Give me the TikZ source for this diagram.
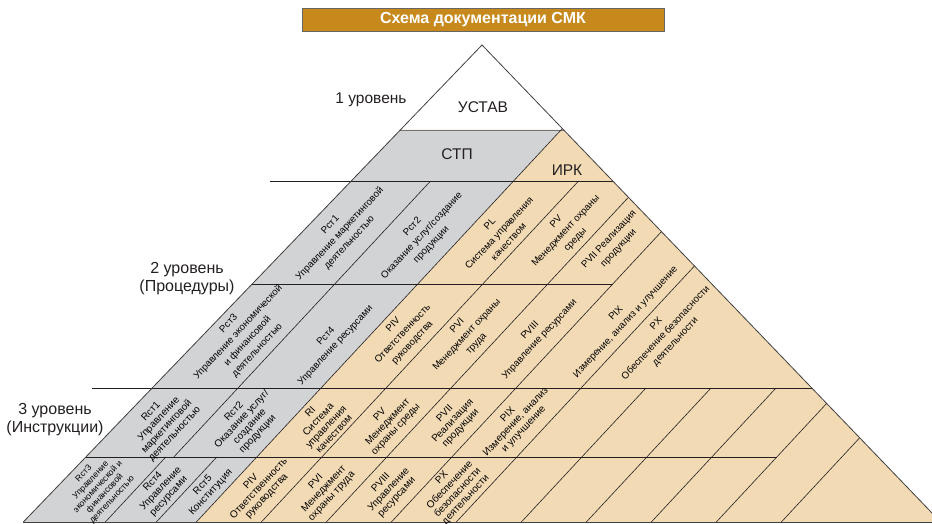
\documentclass[tikz,border=0pt]{standalone}
\usepackage{fontspec}
\setmainfont{Liberation Sans}
\definecolor{tanfill}{HTML}{F2DAB5}
\definecolor{grayfill}{HTML}{D2D3D5}
\definecolor{titlefill}{HTML}{C8891C}
\definecolor{ink}{HTML}{231F20}
\begin{document}
\begin{tikzpicture}[x=1pt,y=-1pt,
  declare function={xl(\x)=482-(\x-45)/1.04; xr(\x)=482+(\x-45)/1.04; dg(\x,\y)=\x+(388-\y)/1.075; ye(\x)=(\x-77.8)/1.89177;},
  ln/.style={draw=ink, line width=0.6pt},
  c2/.style={font=\fontsize{9.7}{13}\selectfont, align=center, rotate=47, inner sep=0pt, text=black},
  c3/.style={font=\fontsize{10}{10.8}\selectfont, align=center, rotate=47, inner sep=0pt, text=black},
  c3s/.style={c3, font=\fontsize{8.6}{9.6}\selectfont},
  lvl/.style={font=\fontsize{16}{18}\selectfont, align=center, text=ink},
  big/.style={font=\fontsize{15.5}{17}\selectfont, text=ink},
]
\useasboundingbox (0,0) rectangle (932,524);
\clip (0,0) rectangle (932,524);
% fills
\fill[tanfill] ({xl(130)},130) -- ({xr(130)},130) -- ({xr(522)},522) -- ({xl(522)},522) -- cycle;
\fill[grayfill] ({xl(130)},130) -- ({dg(321,130)},130) -- ({dg(321,522)},522) -- ({xl(522)},522) -- cycle;
% horizontal lines
\draw[draw=black!55, line width=0.8pt] ({xl(130)},130) -- ({xr(130)},130);
\draw[ln] (270,181) -- ({xr(181)},181);
\draw[ln] ({xl(284)},284) -- ({dg(516,284)},284);
\draw[ln] (92,388) -- ({xr(388)},388);
\draw[ln] ({xl(457)},457) -- ({dg(841,457)},457);
% diagonals
\draw[ln] ({dg(321,{ye(321)})},{ye(321)}) -- ({dg(321,522)},522);
\draw[ln] ({dg(238,181)},181) -- ({dg(238,457)},457);
\draw[ln] ({dg(230,457)},457) -- ({dg(230,522)},522);
\draw[ln] ({dg(281,457)},457) -- ({dg(281,522)},522);
\draw[ln] ({dg(386,181)},181) -- ({dg(386,522)},522);
\foreach \c in {451,516,581,841,906}
  \draw[ln] ({dg(\c,{ye(\c)})},{ye(\c)}) -- ({dg(\c,522)},522);
\foreach \c in {646,711,776}
  \draw[ln] ({dg(\c,388)},388) -- ({dg(\c,522)},522);
% outline
\draw[draw=black!75, line width=0.8pt] ({xl(522)},522) -- (482,45) -- ({xr(522)},522);
\draw[draw=black!75, line width=0.8pt] ({xl(522)},522) -- ({xr(522)},522);
% title
\node[fill=titlefill, draw=black!60, line width=0.6pt, minimum width=362, minimum height=23, inner sep=0pt,
  font=\bfseries\fontsize{16}{18}\selectfont, text=white] (title) at (483,19.7) {Схема документации СМК};
% big labels
\node[font=\fontsize{15.5}{17}\selectfont, text=ink] (l1) at (371,100) {1 уровень};
\node[big] (ustav) at (483,107) {УСТАВ};
\node[big] (stp) at (457,154) {СТП};
\node[big] (irk) at (567,170) {ИРК};
\node[lvl] (l2) at (187,279) {2 уровень\\(Процедуры)};
\node[lvl] (l3) at (55,420) {3 уровень\\(Инструкции)};
% level 2 upper
\node[c2] (p1) at (340,234) {Рст1\\Управление маркетинговой\\деятельностью};
\node[c2] (p2) at (422,236) {Рст2\\Оказание услуг/создание\\продукции};
\node[c2] (pl) at (499,233) {PL\\Система управления\\качеством};
\node[c2] (pv) at (566,231) {PV\\Менеджмент охраны\\среды};
\node[c2] (pvii) at (614,244) {PVII Реализация\\продукции};
% level 2 lower
\node[c2] (p3) at (243,337) {Рст3\\Управление экономической\\и финансовой\\деятельностью};
\node[c2] (p4) at (331,341) {Рст4\\Управление ресурсами};
\node[c2] (piv) at (403,334) {PIV\\Ответственность\\руководства};
\node[c2] (pvi) at (467,335) {PVI\\Менеджмент охраны\\труда};
\node[c2] (pviii) at (535,335) {PVIII\\Управление ресурсами};
\node[c2] (pix) at (621,318) {PIX\\Измерение, анализ и улучшение};
\node[c2] (px) at (666,333) {PX\\Обеспечение безопасности\\деятельности};
% level 3 upper
\node[c3] (r1) at (163,423) {Rст1\\Управление\\маркетинговой\\деятельностью};
\node[c3] (r2) at (246,423) {Rст2\\Оказание услуг/\\создание\\продукции};
\node[c3] (ri) at (322,423) {RI\\Система\\управления\\качеством};
\node[c3] (rv) at (388,422) {PV\\Менеджмент\\охраны среды};
\node[c3] (rvii) at (453,421) {PVII\\Реализация\\продукции};
\node[c3] (rix) at (516,422) {PIX\\Измерение, анализ\\и улучшение};
% level 3 lower
\node[c3s] (r3) at (98,487) {Rст3\\Управление\\экономической и\\финансовой\\деятельностью};
\node[c3] (r4) at (161,489) {Rст4\\Управление\\ресурсами};
\node[c3] (r5) at (207,489) {Rст5\\Конституция};
\node[c3] (riv) at (259,489) {PIV\\Ответственность\\руководства};
\node[c3] (rvi) at (324,489) {PVI\\Менеджмент\\охраны труда};
\node[c3] (rviii) at (389,490) {PVIII\\Управление\\ресурсами};
\node[c3] (rx) at (454,489) {PX\\Обеспечение\\безопасности\\деятельности};
\end{tikzpicture}
\end{document}
